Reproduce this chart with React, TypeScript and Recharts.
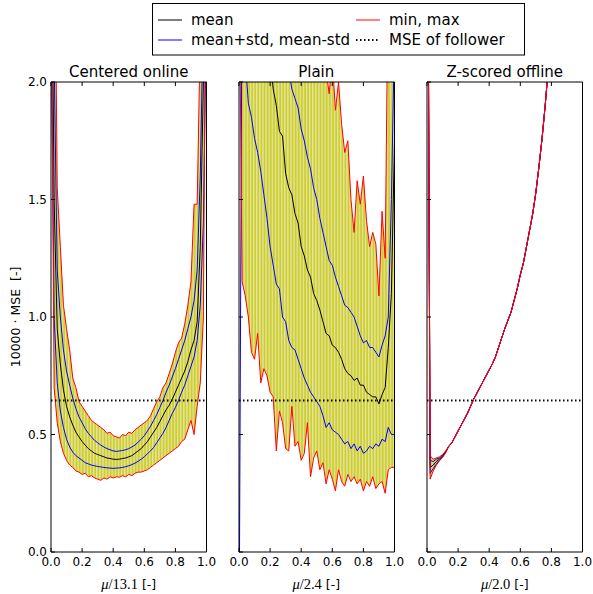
import { ComposedChart, Area, Line, XAxis, YAxis, ReferenceLine } from "recharts";

// shared x grid (mu normalised), 51 samples
const mu = [
  0, 0.02, 0.04, 0.06, 0.08, 0.1, 0.12, 0.14, 0.16, 0.18, 0.2, 0.22, 0.24, 0.26, 0.28, 0.3, 0.32,
  0.34, 0.36, 0.38, 0.4, 0.42, 0.44, 0.46, 0.48, 0.5, 0.52, 0.54, 0.56, 0.58, 0.6, 0.62, 0.64, 0.66,
  0.68, 0.7, 0.72, 0.74, 0.76, 0.78, 0.8, 0.82, 0.84, 0.86, 0.88, 0.9, 0.92, 0.94, 0.96, 0.98, 1,
];
const xTicks = [0, 0.2, 0.4, 0.6, 0.8, 1];
const yTicks = [0, 0.5, 1, 1.5, 2];
const followerMse = 0.645;

// Centered online
const cMean = [
  3.0, 1.5, 0.95, 0.8, 0.69, 0.62, 0.575, 0.54, 0.51, 0.49, 0.47, 0.455, 0.44, 0.43, 0.42, 0.415,
  0.41, 0.405, 0.4, 0.398, 0.395, 0.394, 0.395, 0.398, 0.4, 0.405, 0.41, 0.42, 0.43, 0.44, 0.455,
  0.47, 0.49, 0.51, 0.53, 0.555, 0.58, 0.605, 0.625, 0.65, 0.68, 0.71, 0.74, 0.77, 0.81, 0.86, 0.9,
  0.98, 1.3, 2.0, 3.0,
];
const cUpper = [
  3.0, 2.1, 1.2, 1.0, 0.86, 0.77, 0.71, 0.655, 0.61, 0.575, 0.55, 0.525, 0.505, 0.49, 0.475, 0.465,
  0.455, 0.447, 0.44, 0.435, 0.43, 0.428, 0.43, 0.432, 0.435, 0.44, 0.447, 0.455, 0.467, 0.48,
  0.495, 0.515, 0.535, 0.56, 0.585, 0.615, 0.645, 0.68, 0.71, 0.745, 0.78, 0.82, 0.86, 0.9, 0.95,
  1.0, 1.07, 1.2, 1.6, 2.3, 3.0,
];
const cLower = [
  2.4, 1.0, 0.72, 0.6, 0.53, 0.48, 0.447, 0.425, 0.41, 0.4, 0.39, 0.38, 0.375, 0.37, 0.367, 0.364,
  0.362, 0.36, 0.358, 0.357, 0.356, 0.357, 0.358, 0.36, 0.363, 0.367, 0.372, 0.378, 0.386, 0.395,
  0.405, 0.418, 0.43, 0.445, 0.465, 0.485, 0.505, 0.53, 0.56, 0.59, 0.615, 0.645, 0.68, 0.71, 0.75,
  0.79, 0.83, 0.9, 1.05, 1.4, 2.3,
];
const cMax = [
  3.5, 3.0, 1.55, 1.3, 1.05, 0.95, 0.86, 0.74, 0.7, 0.64, 0.62, 0.6, 0.58, 0.56, 0.55, 0.54, 0.53,
  0.52, 0.505, 0.51, 0.495, 0.49, 0.485, 0.5, 0.495, 0.51, 0.505, 0.52, 0.53, 0.54, 0.55, 0.56,
  0.58, 0.61, 0.64, 0.66, 0.7, 0.72, 0.76, 0.8, 0.85, 0.89, 0.91, 0.97, 1.05, 1.15, 1.48, 1.48, 2.2,
  3.0, 3.5,
];
const cMin = [
  2.5, 0.7, 0.55, 0.47, 0.42, 0.39, 0.37, 0.36, 0.345, 0.34, 0.33, 0.335, 0.32, 0.325, 0.315, 0.31,
  0.305, 0.315, 0.31, 0.32, 0.315, 0.32, 0.318, 0.325, 0.32, 0.33, 0.325, 0.335, 0.34, 0.34, 0.345,
  0.35, 0.36, 0.37, 0.38, 0.39, 0.4, 0.41, 0.42, 0.43, 0.44, 0.45, 0.47, 0.48, 0.52, 0.56, 0.5,
  0.62, 0.72, 1.0, 3.0,
];

// Plain
const pMean = [
  3.0, 3.0, 3.0, 2.9, 2.8, 2.7, 2.6, 2.5, 2.35, 2.2, 2.1, 1.97, 1.9, 1.79, 1.77, 1.61, 1.55, 1.52,
  1.44, 1.4, 1.3, 1.26, 1.2, 1.17, 1.1, 1.07, 1.03, 0.98, 0.93, 0.92, 0.88, 0.87, 0.85, 0.82, 0.78,
  0.76, 0.75, 0.73, 0.74, 0.71, 0.71, 0.68, 0.67, 0.66, 0.66, 0.63, 0.67, 0.7, 0.87, 1.1, 1.75,
];
const pUpper = [
  3.6, 3.6, 3.5, 3.4, 3.3, 3.2, 3.1, 3.0, 2.9, 2.8, 2.7, 2.6, 2.5, 2.4, 2.3, 2.2, 2.05, 1.97, 1.93,
  1.89, 1.8, 1.75, 1.68, 1.63, 1.55, 1.5, 1.42, 1.36, 1.3, 1.24, 1.22, 1.17, 1.13, 1.09, 1.05, 1.04,
  1.02, 1.0, 0.96, 0.92, 0.89, 0.9, 0.87, 0.87, 0.85, 0.83, 0.88, 0.92, 1.0, 1.5, 2.2,
];
const pLower = [
  -0.5, 2.5, 2.1, 1.91, 1.85, 1.76, 1.7, 1.62, 1.52, 1.42, 1.3, 1.22, 1.14, 1.12, 1.0, 0.98, 0.9,
  0.87, 0.86, 0.82, 0.78, 0.74, 0.71, 0.68, 0.66, 0.64, 0.62, 0.58, 0.53, 0.55, 0.52, 0.51, 0.5,
  0.48, 0.46, 0.47, 0.44, 0.46, 0.43, 0.45, 0.42, 0.43, 0.45, 0.44, 0.46, 0.45, 0.48, 0.47, 0.53,
  0.5, 0.5,
];
const pMax = [
  4.0, 4.0, 4.0, 4.0, 4.0, 4.0, 4.0, 4.0, 4.0, 4.0, 4.0, 4.0, 4.0, 4.0, 4.0, 4.0, 4.0, 4.0, 4.0,
  4.0, 4.0, 4.0, 4.0, 4.0, 3.5, 3.0, 2.6, 2.3, 2.05, 1.95, 2.1, 1.88, 2.0, 1.82, 1.7, 1.75, 1.5,
  1.36, 1.58, 1.48, 1.6, 1.41, 1.3, 1.36, 1.31, 1.09, 1.45, 1.25, 2.5, 3.0, 3.0,
];
const pMin = [
  2.6, 1.15, 1.09, 1.0, 0.85, 0.82, 0.93, 0.72, 0.78, 0.75, 0.68, 0.66, 0.43, 0.6, 0.55, 0.44, 0.43,
  0.62, 0.45, 0.47, 0.39, 0.42, 0.55, 0.32, 0.4, 0.43, 0.35, 0.38, 0.29, 0.35, 0.31, 0.26, 0.35,
  0.3, 0.28, 0.33, 0.3, 0.32, 0.29, 0.31, 0.26, 0.3, 0.28, 0.32, 0.27, 0.29, 0.3, 0.25, 0.35, 0.36,
  0.36,
];

// Z-scored offline: all five curves coincide after the first few samples
const zTail = [
  0.45, 0.465, 0.49, 0.515, 0.54, 0.565, 0.59, 0.62, 0.65, 0.675, 0.7, 0.725, 0.75, 0.775, 0.8,
  0.83, 0.87, 0.91, 0.95, 0.985, 1.02, 1.07, 1.12, 1.18, 1.23, 1.3, 1.37, 1.44, 1.53, 1.64, 1.76,
  1.9, 2.06, 2.2, 2.35, 2.5, 2.65, 2.8, 2.95, 3.1, 3.25, 3.4, 3.55, 3.7,
];
const zMax = [3.6, 0.41, 0.395, 0.4, 0.405, 0.415, 0.43, ...zTail];
const zUpper = [3.6, 0.39, 0.385, 0.395, 0.4, 0.412, 0.428, ...zTail];
const zMean = [3.6, 0.36, 0.37, 0.385, 0.395, 0.408, 0.426, ...zTail];
const zLower = [3.6, 0.335, 0.355, 0.375, 0.39, 0.405, 0.424, ...zTail];
const zMin = [3.6, 0.31, 0.345, 0.37, 0.388, 0.402, 0.422, ...zTail];

const PLOT_W = 155.5;
const PLOT_H = 470;
const PLOT_TOP = 82;
const AXIS_W = 40;
const PAD = 6;
const PAD_RIGHT = 16;
const FONT = "DejaVu Sans, sans-serif";

type PanelProps = {
  id: string;
  left: number;
  title: string;
  scale: string;
  showY: boolean;
  mean: number[];
  upper: number[];
  lower: number[];
  min: number[];
  max: number[];
};

function Panel({ id, left, showY, mean, upper, lower, min, max }: PanelProps) {
  const data = mu.map((x, i) => ({
    x,
    mean: mean[i],
    upper: upper[i],
    lower: lower[i],
    min: min[i],
    max: max[i],
    band: [min[i], max[i]],
  }));
  const stripe = PLOT_W / 50;
  const tick = { fill: "#000", fontSize: 12, fontFamily: FONT };
  const axisStroke = { stroke: "#000" };
  return (
    <div style={{ position: "absolute", left: left - AXIS_W, top: PLOT_TOP - PAD - 1 }}>
      <ComposedChart
        width={AXIS_W + PLOT_W + 1 + PAD_RIGHT}
        height={PAD + 1 + PLOT_H + 26}
        data={data}
        margin={{ top: PAD, right: PAD_RIGHT, left: 0, bottom: 0 }}
      >
        <defs>
          <pattern
            id={`fill-${id}`}
            patternUnits="userSpaceOnUse"
            x={AXIS_W}
            y={0}
            width={stripe}
            height={8}
          >
            <rect width={stripe} height={8} fill="#cdcd3c" />
            <rect x={stripe / 2} width={1.3} height={8} fill="#e6e68e" />
          </pattern>
        </defs>
        <XAxis
          dataKey="x"
          type="number"
          domain={[0, 1]}
          ticks={xTicks}
          tickFormatter={(v: number) => v.toFixed(1)}
          tick={tick}
          tickSize={-4}
          tickMargin={9}
          height={26}
          interval={0}
          axisLine={axisStroke}
          tickLine={axisStroke}
        />
        <XAxis
          xAxisId="top"
          orientation="top"
          dataKey="x"
          type="number"
          domain={[0, 1]}
          ticks={xTicks}
          tickFormatter={() => ""}
          tickSize={-4}
          height={1}
          axisLine={axisStroke}
          tickLine={axisStroke}
        />
        <YAxis
          type="number"
          domain={[0, 2]}
          allowDataOverflow
          ticks={yTicks}
          tickFormatter={(v: number) => (showY ? v.toFixed(1) : "")}
          tick={tick}
          tickSize={-4}
          tickMargin={8}
          width={AXIS_W}
          interval={0}
          axisLine={axisStroke}
          tickLine={axisStroke}
        />
        <YAxis
          yAxisId="right"
          orientation="right"
          type="number"
          domain={[0, 2]}
          ticks={yTicks}
          tickFormatter={() => ""}
          tickSize={-4}
          width={1}
          axisLine={axisStroke}
          tickLine={axisStroke}
        />
        <Area
          dataKey="band"
          type="linear"
          stroke="none"
          fill={`url(#fill-${id})`}
          fillOpacity={1}
          dot={false}
          activeDot={false}
          isAnimationActive={false}
        />
        <Line dataKey="mean" type="linear" stroke="#000000" strokeWidth={1} dot={false} isAnimationActive={false} />
        <Line dataKey="upper" type="linear" stroke="#0000ff" strokeWidth={1} dot={false} isAnimationActive={false} />
        <Line dataKey="lower" type="linear" stroke="#0000ff" strokeWidth={1} dot={false} isAnimationActive={false} />
        <Line dataKey="min" type="linear" stroke="#ff0000" strokeWidth={1} dot={false} isAnimationActive={false} />
        <Line dataKey="max" type="linear" stroke="#ff0000" strokeWidth={1} dot={false} isAnimationActive={false} />
        <ReferenceLine y={followerMse} stroke="#000" strokeWidth={2} strokeDasharray="1.5 2.5" />
      </ComposedChart>
    </div>
  );
}

const panels: PanelProps[] = [
  { id: "c", left: 51, title: "Centered online", scale: "13.1", showY: true, mean: cMean, upper: cUpper, lower: cLower, min: cMin, max: cMax },
  { id: "p", left: 238.5, title: "Plain", scale: "2.4", showY: false, mean: pMean, upper: pUpper, lower: pLower, min: pMin, max: pMax },
  { id: "z", left: 427, title: "Z-scored offline", scale: "2.0", showY: false, mean: zMean, upper: zUpper, lower: zLower, min: zMin, max: zMax },
];

const legendItems = [
  { label: "mean", color: "#000000", dash: undefined, x: 158, row: 0 },
  { label: "mean+std, mean-std", color: "#0000ff", dash: undefined, x: 158, row: 1 },
  { label: "min, max", color: "#ff0000", dash: undefined, x: 356, row: 0 },
  { label: "MSE of follower", color: "#000000", dash: "1.5 2.5", x: 356, row: 1 },
];

export default function App() {
  return (
    <div style={{ position: "absolute", left: 0, top: 0, width: 593, height: 594, background: "#fff", overflow: "hidden" }}>
      {panels.map((p) => (
        <Panel key={p.id} {...p} />
      ))}
      <svg
        width={593}
        height={594}
        style={{ position: "absolute", left: 0, top: 0, pointerEvents: "none" }}
        fontFamily={FONT}
      >
        {panels.map((p) => (
          <g key={p.id}>
            <text x={p.left + PLOT_W / 2} y={77} textAnchor="middle" fontSize={15}>
              {p.title}
            </text>
            <text x={p.left + PLOT_W / 2} y={589} textAnchor="middle" fontSize={12.5}>
              <tspan fontFamily="Liberation Serif, serif" fontStyle="italic" fontSize={14.5}>μ</tspan>
              <tspan fontFamily="Liberation Serif, serif" fontSize={14.5}>/{p.scale}</tspan>
              <tspan> [-]</tspan>
            </text>
          </g>
        ))}
        <text
          transform="translate(20,317) rotate(-90)"
          textAnchor="middle"
          fontSize={12.5}
          style={{ whiteSpace: "pre" }}
        >
          {"10000 · MSE  [-]"}
        </text>
        <rect x={152.5} y={3.5} width={372} height={51.5} fill="#fff" stroke="#000" strokeWidth={1} />
        {legendItems.map((it) => (
          <g key={it.label}>
            <line
              x1={it.x}
              x2={it.x + 24}
              y1={20 + it.row * 20}
              y2={20 + it.row * 20}
              stroke={it.color}
              strokeWidth={it.dash ? 2 : 1}
              strokeDasharray={it.dash}
            />
            <text x={it.x + 33} y={25 + it.row * 20} fontSize={15}>
              {it.label}
            </text>
          </g>
        ))}
      </svg>
    </div>
  );
}
